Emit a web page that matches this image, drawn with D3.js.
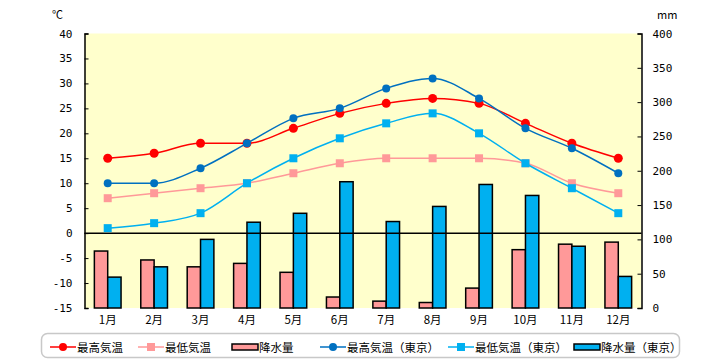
<!DOCTYPE html>
<html><head><meta charset="utf-8">
<script src="https://cdn.jsdelivr.net/npm/d3@7/dist/d3.min.js"></script>
<style>body{margin:0;background:#fff;}text{font-family:"Noto Sans CJK JP","Noto Sans",sans-serif;}</style>
</head><body><svg id="c" width="720" height="360"></svg>
<script>
const months = ["1月","2月","3月","4月","5月","6月","7月","8月","9月","10月","11月","12月"];
const maxTemp = [15,16,18,18,21,24,26,27,26,22,18,15];
const minTemp = [7,8,9,10,12,14,15,15,15,14,10,8];
const precip = [83,70,60,65,52,16,10,8,29,85,93,96];
const maxTempTokyo = [10,10,13,18,23,25,29,31,27,21,17,12];
const minTempTokyo = [1,2,4,10,15,19,22,24,20,14,9,4];
const precipTokyo = [45,60,100,125,138,184,126,148,180,164,90,46];
const tempTicks = [-15,-10,-5,0,5,10,15,20,25,30,35,40];
const precipTicks = [0,50,100,150,200,250,300,350,400];

const svg = d3.select("#c");
const L = 84.5, R = 641.5, T = 33.5, B = 308;
const x = d3.scaleBand().domain(months).range([L, R]).paddingInner(0.425).paddingOuter(0.2125);
const xs = d3.scaleBand().domain(["a","b"]).range([0, x.bandwidth()]);
const yT = d3.scaleLinear().domain([-15, 40]).range([B, T]);
const yP = d3.scaleLinear().domain([0, 400]).range([B, T]);
const cx = m => x(m) + x.bandwidth() / 2;

svg.append("rect").attr("x", L).attr("y", T).attr("width", R - L).attr("height", B - T).attr("fill", "#FFFFCC");

// bars
const bars = [["a", precip, "#FF9999"], ["b", precipTokyo, "#00B0F0"]];
bars.forEach(([k, arr, col]) => {
  svg.append("g").selectAll("rect").data(arr).join("rect")
    .attr("x", (d, i) => x(months[i]) + xs(k))
    .attr("y", d => yP(d))
    .attr("width", xs.bandwidth())
    .attr("height", d => yP(0) - yP(d))
    .attr("fill", col).attr("stroke", "#000").attr("stroke-width", 1.5);
});

// zero line
svg.append("line").attr("x1", L).attr("x2", R).attr("y1", yT(0)).attr("y2", yT(0)).attr("stroke", "#000").attr("stroke-width", 1.5);

// axes
const axL = svg.append("g").attr("transform", `translate(${L},0)`)
  .call(d3.axisRight(yT).tickValues(tempTicks).tickSize(4).tickFormat(d => d < 0 ? "-" + Math.abs(d) : d));
axL.select(".domain").attr("stroke", "#000").attr("stroke-width", 1.5);
axL.selectAll(".tick text").attr("x", -12).attr("text-anchor", "end").attr("font-size", 11).attr("fill", "#000")
  .style("font-family", "'DejaVu Sans Mono', monospace");

const axR = svg.append("g").attr("transform", `translate(${R},0)`)
  .call(d3.axisLeft(yP).tickValues(precipTicks).tickSize(4));
axR.select(".domain").attr("stroke", "#000").attr("stroke-width", 1.5);
axR.selectAll(".tick text").attr("x", 11).attr("text-anchor", "start").attr("font-size", 11).attr("fill", "#000")
  .style("font-family", "'DejaVu Sans Mono', monospace");

svg.append("text").attr("x", 52).attr("y", 19).attr("font-size", 11).text("℃");
svg.append("text").attr("x", 657).attr("y", 19).attr("font-size", 11).text("mm");

// month labels
svg.append("g").selectAll("text").data(months).join("text")
  .attr("x", d => cx(d)).attr("y", 324).attr("text-anchor", "middle").attr("font-size", 11.5).text(d => d);

// lines
const line = d3.line().curve(d3.curveMonotoneX);
const series = [
  [maxTemp, "#FF0000", "circle", 4.5],
  [minTemp, "#FF9999", "square", 4],
  [maxTempTokyo, "#0070C0", "circle", 4],
  [minTempTokyo, "#00B0F0", "square", 4]
];
series.forEach(([arr, col, shape, r]) => {
  const pts = arr.map((v, i) => [cx(months[i]), yT(v)]);
  svg.append("path").attr("d", line(pts)).attr("fill", "none").attr("stroke", col).attr("stroke-width", 1.5);
  const g = svg.append("g");
  if (shape === "circle") {
    g.selectAll("circle").data(pts).join("circle").attr("cx", d => d[0]).attr("cy", d => d[1]).attr("r", r).attr("fill", col);
  } else {
    g.selectAll("rect").data(pts).join("rect").attr("x", d => d[0] - r).attr("y", d => d[1] - r).attr("width", 2 * r).attr("height", 2 * r).attr("fill", col);
  }
});

// legend
const lg = svg.append("g");
lg.append("rect").attr("x", 41.5).attr("y", 333.5).attr("width", 638).attr("height", 24).attr("rx", 6)
  .attr("fill", "#fff").attr("stroke", "#C8C8C8").attr("stroke-width", 1.5);
const legendItems = [
  {label: "最高気温", type: "line", col: "#FF0000", shape: "circle", x: 50},
  {label: "最低気温", type: "line", col: "#FF9999", shape: "square", x: 138},
  {label: "降水量", type: "bar", col: "#FF9999", x: 232},
  {label: "最高気温（東京）", type: "line", col: "#0070C0", shape: "circle", x: 320},
  {label: "最低気温（東京）", type: "line", col: "#00B0F0", shape: "square", x: 448},
  {label: "降水量（東京）", type: "bar", col: "#00B0F0", x: 574}
];
const ly = 347;
legendItems.forEach(it => {
  if (it.type === "line") {
    lg.append("line").attr("x1", it.x).attr("x2", it.x + 26).attr("y1", ly).attr("y2", ly).attr("stroke", it.col).attr("stroke-width", 1.5);
    if (it.shape === "circle") lg.append("circle").attr("cx", it.x + 13).attr("cy", ly).attr("r", 4).attr("fill", it.col);
    else lg.append("rect").attr("x", it.x + 9).attr("y", ly - 4).attr("width", 8).attr("height", 8).attr("fill", it.col);
  } else {
    lg.append("rect").attr("x", it.x).attr("y", ly - 3).attr("width", 26).attr("height", 6).attr("fill", it.col).attr("stroke", "#000").attr("stroke-width", 1.5);
  }
  lg.append("text").attr("x", it.x + 27).attr("y", ly + 4.5).attr("font-size", 11.5).text(it.label);
});
</script></body></html>
